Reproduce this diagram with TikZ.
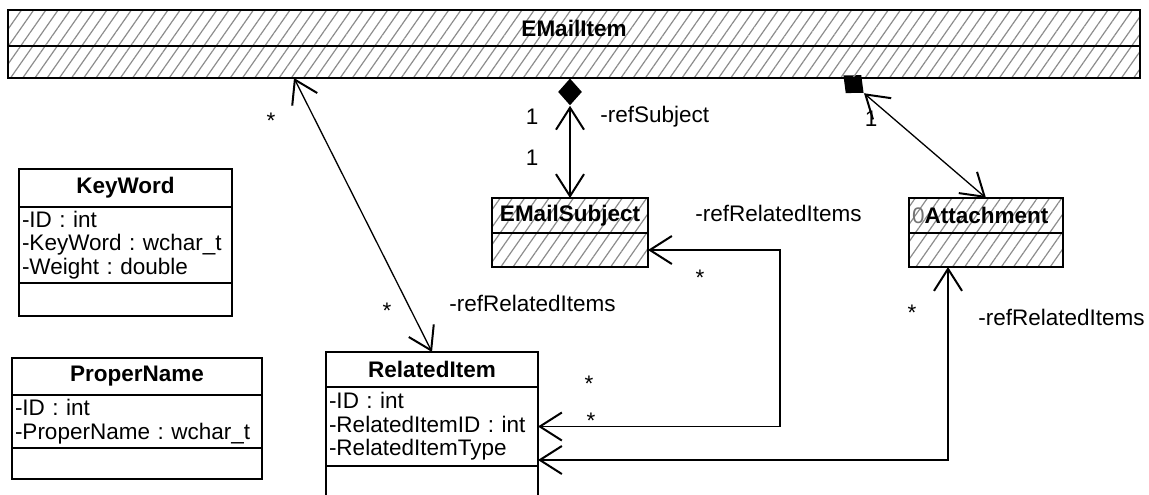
\documentclass[tikz,border=0pt]{standalone}
\usepackage{fontspec}
\setmainfont{Liberation Sans}
\usetikzlibrary{arrows.meta,positioning,patterns.meta,shapes.geometric}
\newcommand\umlfont{\fontsize{11.25}{11.8}\selectfont\frenchspacing}

\tikzset{
  hatch/.style={pattern={Lines[angle=55,distance=5pt,line width=0.6pt]},
                pattern color=black!45},
  head/.style={draw,line width=1pt,outer sep=0pt,inner sep=0pt,
               font=\umlfont\bfseries,minimum width=#1,
               minimum height=18.5pt,anchor=north west},
  attrs/.style={draw,line width=1pt,outer sep=0pt,inner xsep=1.5pt,
                inner ysep=0pt,text width=#1,align=left,font=\umlfont},
  ops/.style={draw,line width=1pt,outer sep=0pt,inner sep=0pt,
              minimum width=#1},
  cmp/.style={diamond,fill=black,inner sep=0pt,minimum width=12pt,
              minimum height=13.5pt},
  barb/.tip={Straight Barb[length=11pt,width=14pt,line width=1pt]},
  assoc/.style={line width=0.65pt,barb-barb},
  lbl/.style={inner sep=0pt,font=\umlfont}
}

\begin{document}
\begin{tikzpicture}[x=0.5pt,y=-0.5pt]
  \clip (0,0) rectangle (1149,494);

  % compositions (diamonds first, partly under the box)
  \node[cmp,rotate=49,anchor=north] (dA) at (843,75) {};

  % classes
  \node[head=566pt,hatch,minimum height=18pt] (eiH) at (8,10) {EMailItem};
  \node[ops=566pt,hatch,minimum height=16pt,below=0pt of eiH] (eiB) {};

  \node[head=106.5pt,minimum height=19pt] (kwH) at (19,169) {KeyWord};
  \node[attrs=103.5pt,minimum height=38pt,below=0pt of kwH] (kwA)
       {-ID : int\\-KeyWord : wchar\_t\\-Weight : double};
  \node[ops=106.5pt,minimum height=16.5pt,below=0pt of kwA] (kwO) {};

  \node[head=125pt,minimum height=18.5pt] (pnH) at (12,358) {ProperName};
  \node[attrs=122pt,minimum height=26.5pt,below=0pt of pnH] (pnA)
       {-ID : int\\-ProperName : wchar\_t};
  \node[ops=125pt,minimum height=15.5pt,below=0pt of pnA] (pnO) {};

  \node[head=106pt,minimum height=17.5pt] (riH) at (326,352) {RelatedItem};
  \node[attrs=103pt,minimum height=39.5pt,below=0pt of riH] (riA)
       {-ID : int\\-RelatedItemID : int\\-RelatedItemType};
  \node[ops=106pt,minimum height=25pt,below=0pt of riA] (riO) {};

  \node[head=78pt,hatch,minimum height=17.5pt] (sjH) at (492,198) {EMailSubject};
  \node[ops=78pt,hatch,minimum height=17pt,below=0pt of sjH] (sjL) {};

  \node[attrs=74pt,hatch,font=\umlfont\bfseries,minimum height=17.5pt,
        anchor=north west] (atH) at (909,198)
       {{\mdseries\color{black!55}0}Attachment};
  \node[ops=77pt,hatch,minimum height=17pt,below=0pt of atH] (atL) {};

  \node[cmp,anchor=north] (dS) at (sjH.north |- eiB.south) {};
  \draw[assoc] (dS.south) -- (sjH.north);
  \draw[assoc] (dA.south) -- (atH.north);

  % associations
  \draw[assoc] ([xshift=-140pt]eiB.south) -- (riH.north);
  \coordinate (bendS) at (780,0);
  \draw[assoc] (sjL.east) -| (bendS |- riA.east) -- (riA.east);
  \draw[assoc] ([xshift=-19pt]atL.south) |- ([yshift=-16.75pt]riA.east);

  % roles and multiplicities
  \node[lbl] (mE) at (271,121) {*};
  \node[lbl] (mR) at (387,311) {*};
  \node[lbl,anchor=west] (rR) at (449,303) {-refRelatedItems};
  \node[lbl] (m1a) at (532,117) {1};
  \node[lbl] (m1b) at (532,158) {1};
  \node[lbl,anchor=west] (rS) at (600,117) {-refSubject};
  \node[lbl] (m1c) at (871,119) {1};
  \node[lbl,anchor=west] (rSR) at (695,213) {-refRelatedItems};
  \node[lbl] (mS1) at (700,278) {*};
  \node[lbl] (mS2) at (589,384) {*};
  \node[lbl] (mS3) at (591,421) {*};
  \node[lbl] (mA) at (912,313) {*};
  \node[lbl,anchor=west] (rAR) at (978,317) {-refRelatedItems};
\end{tikzpicture}
\end{document}
